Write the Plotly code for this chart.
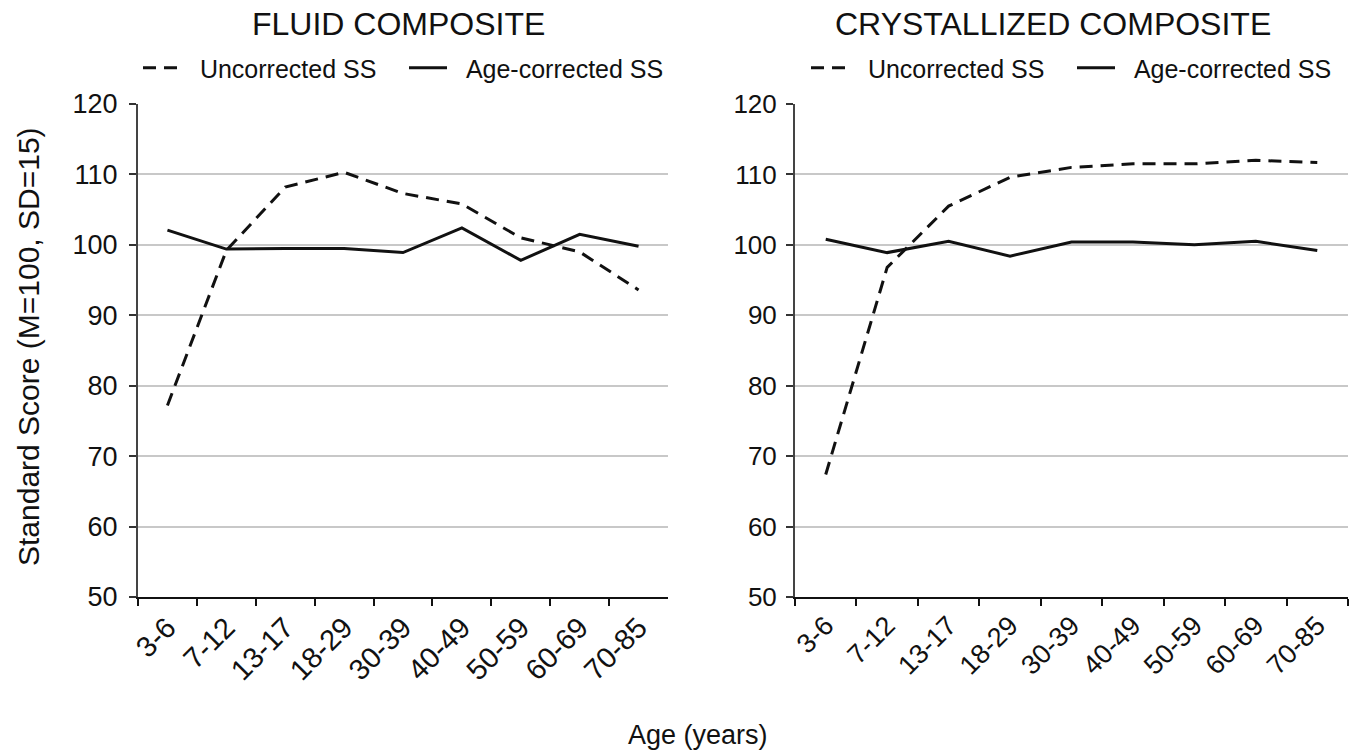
import plotly.graph_objects as go

# Age bands shown on both panels
age_groups = ["3-6", "7-12", "13-17", "18-29", "30-39", "40-49", "50-59", "60-69", "70-85"]

# Fluid composite scores
fluid_uncorrected = [77.2, 99.2, 108.2, 110.3, 107.3, 105.8, 101.0, 99.0, 93.6]
fluid_age_corrected = [102.1, 99.4, 99.5, 99.5, 98.9, 102.4, 97.8, 101.5, 99.8]

# Crystallized composite scores
cryst_uncorrected = [67.4, 96.8, 105.5, 109.6, 111.0, 111.5, 111.5, 112.0, 111.7]
cryst_age_corrected = [100.8, 98.9, 100.5, 98.4, 100.4, 100.4, 100.0, 100.5, 99.2]

y_ticks = [50, 60, 70, 80, 90, 100, 110, 120]

FONT = "Liberation Sans, Arial, sans-serif"
INK = "#111111"
W, H = 1360, 754
GAP = "\u00a0\u00a0"  # extra room between legend symbol and label

fig = go.Figure()

panels = [
    ("x", "y", "legend", fluid_uncorrected, fluid_age_corrected),
    ("x2", "y2", "legend2", cryst_uncorrected, cryst_age_corrected),
]
for xa, ya, lg, unc, cor in panels:
    fig.add_trace(go.Scatter(
        x=age_groups, y=unc, xaxis=xa, yaxis=ya, legend=lg,
        name=GAP + "Uncorrected SS", mode="lines",
        line=dict(color=INK, width=3, dash="13px,8px"),
    ))
    fig.add_trace(go.Scatter(
        x=age_groups, y=cor, xaxis=xa, yaxis=ya, legend=lg,
        name=GAP + "Age-corrected SS", mode="lines",
        line=dict(color=INK, width=3),
    ))


def x_axis(domain, anchor, size):
    return dict(
        domain=domain, anchor=anchor,
        type="category", range=[-0.5, 8.5], tickson="boundaries",
        ticks="outside", ticklen=7, tickwidth=2, tickcolor=INK,
        showline=True, linecolor=INK, linewidth=2, showgrid=False,
        tickangle=-45, tickfont=dict(family=FONT, size=size, color=INK),
        automargin=False, fixedrange=True,
    )


def y_axis(domain, anchor, size, standoff):
    return dict(
        domain=domain, anchor=anchor,
        range=[50, 120], tickvals=y_ticks, ticks="outside", ticklen=7,
        tickwidth=2, tickcolor="#333333", showline=True, linecolor="#444444",
        linewidth=2, showgrid=True, gridcolor="#c8c8c8", gridwidth=2,
        zeroline=False, tickfont=dict(family=FONT, size=size, color=INK),
        ticklabelstandoff=standoff, automargin=False, fixedrange=True,
    )


y_dom = [1 - 597 / H, 1 - 104 / H]

legend_style = dict(
    orientation="h", xanchor="left", y=1 - 68 / H, yanchor="middle",
    font=dict(family=FONT, size=25, color=INK), itemwidth=38,
    entrywidth=213, bgcolor="rgba(0,0,0,0)",
)

fig.update_layout(
    width=W, height=H,
    margin=dict(l=0, r=0, t=0, b=0, autoexpand=False),
    paper_bgcolor="white", plot_bgcolor="white",
    font=dict(family=FONT, color=INK),
    xaxis=x_axis([138 / W, 668 / W], "y", 29),
    yaxis=y_axis(y_dom, "x", 27, 6),
    xaxis2=x_axis([795 / W, 1348 / W], "y2", 27),
    yaxis2=y_axis(y_dom, "x2", 26, 4),
    legend=dict(x=138 / W, **legend_style),
    legend2=dict(x=806 / W, **legend_style),
    annotations=[
        dict(text="FLUID COMPOSITE", x=398 / W, y=1 - 24 / H, xref="paper", yref="paper",
             xanchor="center", yanchor="middle", showarrow=False,
             font=dict(family=FONT, size=32, color=INK)),
        dict(text="CRYSTALLIZED COMPOSITE", x=1053 / W, y=1 - 24 / H, xref="paper", yref="paper",
             xanchor="center", yanchor="middle", showarrow=False,
             font=dict(family=FONT, size=32, color=INK)),
        dict(text="Age (years)", x=698 / W, y=1 - 735 / H, xref="paper", yref="paper",
             xanchor="center", yanchor="middle", showarrow=False,
             font=dict(family=FONT, size=27, color=INK)),
        dict(text="Standard Score (M=100, SD=15)", x=28 / W, y=1 - 347 / H,
             xref="paper", yref="paper", xanchor="center", yanchor="middle",
             textangle=-90, showarrow=False,
             font=dict(family=FONT, size=30, color=INK)),
    ],
)

fig.write_html("out.html")
